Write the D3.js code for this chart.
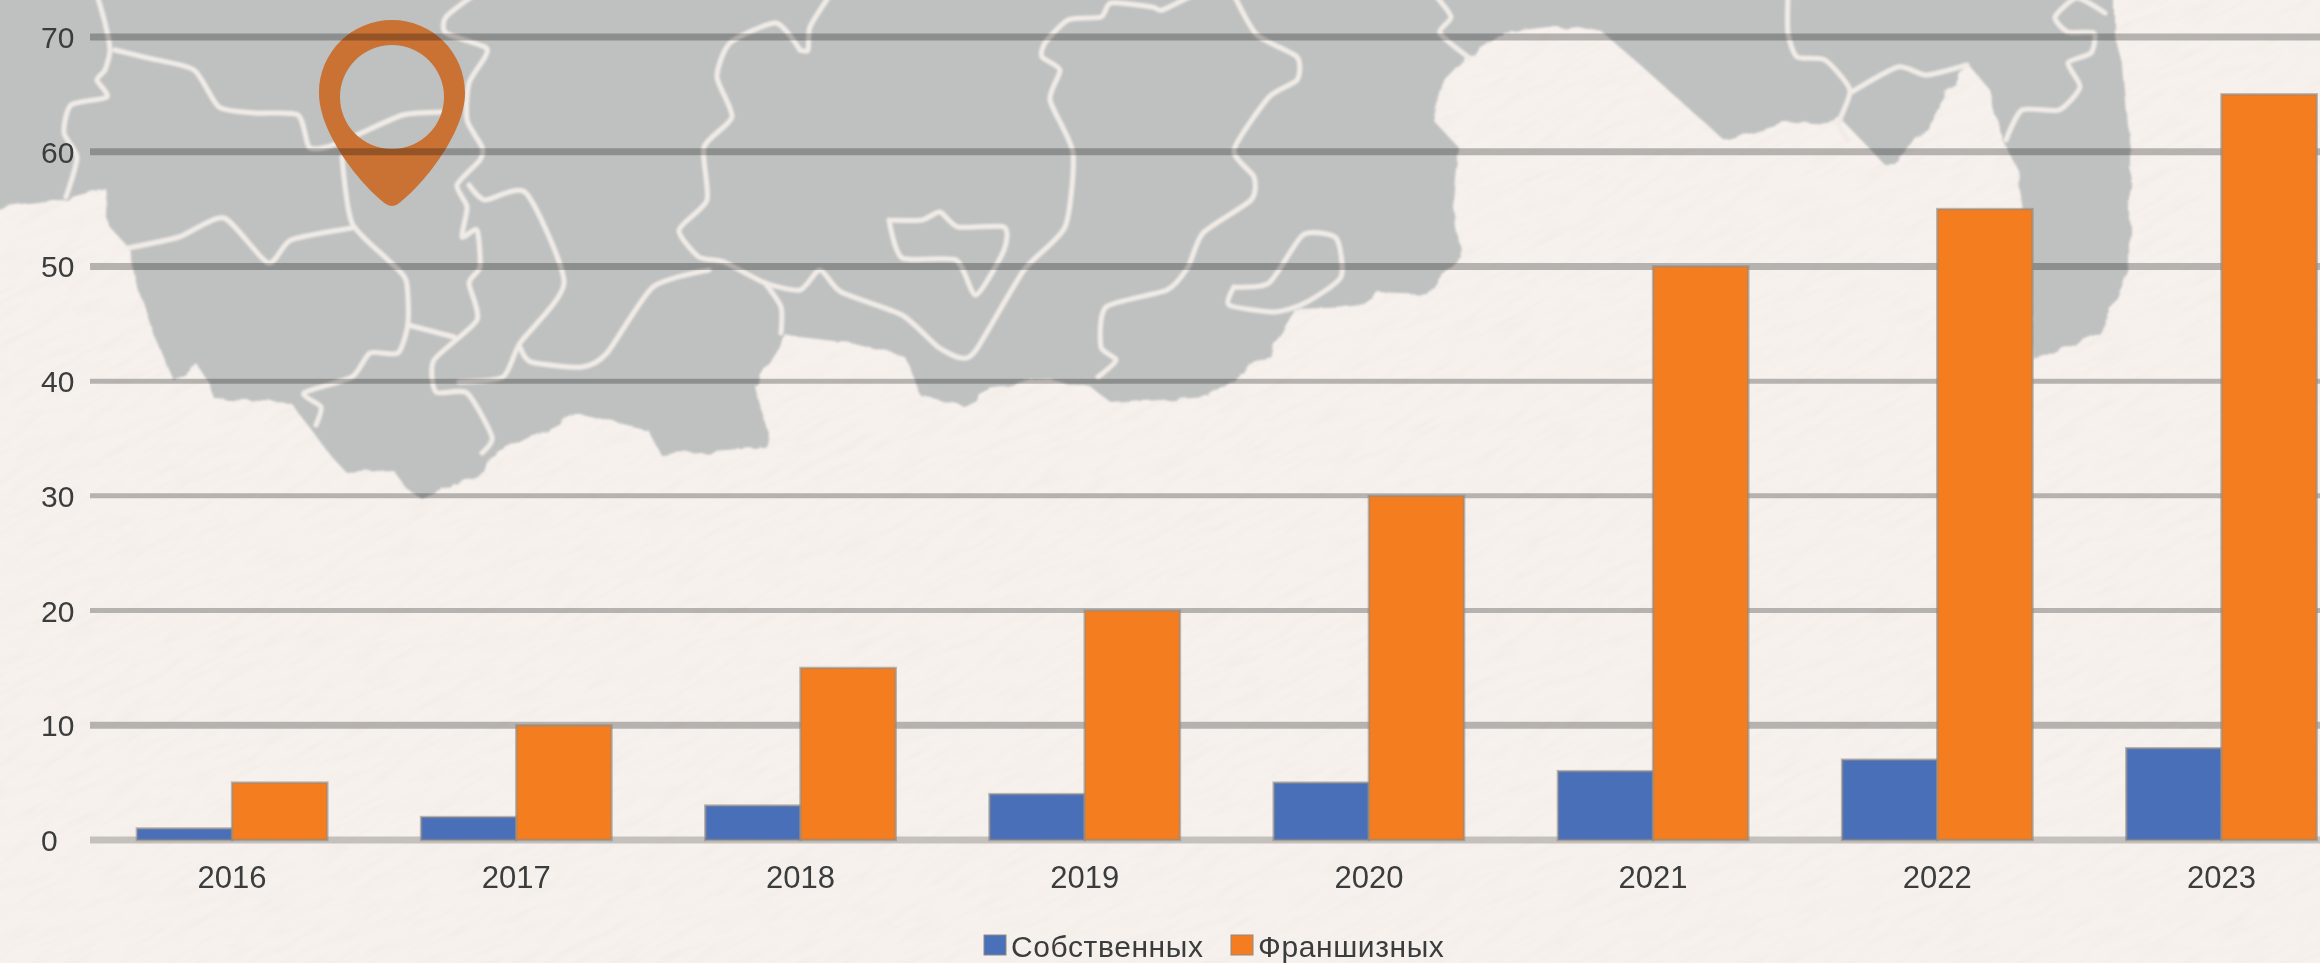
<!DOCTYPE html>
<html>
<head>
<meta charset="utf-8">
<script src="https://cdnjs.cloudflare.com/ajax/libs/d3/7.8.5/d3.min.js"></script>
<style>
    html, body { margin: 0; padding: 0; background: #f4eeea; overflow: hidden; }
    text { font-family: "Liberation Sans", Arial, sans-serif; fill: #3a3c3d; }
</style>
</head>
<body>
<div id="chart"></div>
<script>
// chart values
let years = ["2016", "2017", "2018", "2019", "2020", "2021", "2022", "2023"];
let seriesNames = ["Собственных", "Франшизных"];
let ownValues = [1, 2, 3, 4, 5, 6, 7, 8];
let franchiseValues = [5, 10, 15, 20, 30, 50, 55, 65];
let yTicks = [0, 10, 20, 30, 40, 50, 60, 70];
let seriesColors = ["#4a6fb9", "#f47d20"];

// backdrop map, traced in page pixels (decoration, not data)
let landOutline = [[-40,-40],[-40,212],[0,208],[61,200],[105,188],[110,227],[128,247],[135,277],[153,333],[173,380],[186,372],[196,363],[207,380],[214,398],[291,403],[306,423],[332,457],[347,473],[393,470],[408,490],[421,498],[439,490],[485,473],[490,457],[577,413],[648,430],[661,455],[765,447],[768,433],[755,387],[780,347],[784,333],[800,337],[851,343],[905,357],[915,380],[922,397],[963,405],[999,387],[1030,378],[1091,387],[1111,403],[1208,397],[1239,377],[1269,353],[1295,310],[1356,308],[1377,293],[1428,295],[1443,273],[1461,257],[1453,200],[1458,147],[1433,120],[1443,83],[1468,57],[1504,33],[1576,25],[1600,30],[1646,70],[1724,140],[1784,122],[1830,125],[1839,117],[1871,150],[1885,165],[1898,160],[1912,147],[1958,77],[1967,63],[1990,90],[2004,143],[2018,170],[2027,233],[2034,360],[2100,333],[2119,293],[2130,267],[2130,150],[2123,67],[2114,33],[2114,-40]];
let landBorders = [
    [[97,-5],[105,23],[110,50],[105,70],[97,80],[107,97],[71,105],[64,133],[77,157],[66,197]],
    [[115,50],[148,58],[194,70],[219,107],[255,113],[298,115],[309,147],[327,147],[357,135],[403,115],[444,112]],
    [[342,157],[352,223],[388,260],[406,280],[408,323],[398,353],[370,353],[352,377],[304,393],[321,407],[316,425]],
    [[128,248],[179,237],[224,218],[268,263],[291,240],[352,228]],
    [[408,325],[454,337]],
    [[474,-5],[446,17],[446,33],[485,47],[485,57],[469,83],[467,120],[482,147],[480,160],[457,185],[467,207],[462,237],[477,230],[480,267],[469,283],[477,320],[434,360],[436,392],[467,393],[492,437],[482,453]],
    [[469,185],[485,200],[526,193],[564,283],[520,343],[503,377],[459,382]],
    [[520,347],[531,362],[582,367],[607,353],[653,287],[709,270]],
    [[800,50],[776,23],[730,43],[717,77],[732,117],[704,147],[707,200],[679,230],[699,257],[724,262],[765,283],[800,290],[820,270],[841,292],[902,315],[938,347],[961,358],[976,350],[1024,270],[1065,227],[1073,153],[1050,100],[1060,70],[1042,57],[1045,43],[1068,20],[1101,17],[1111,3],[1152,7],[1162,10],[1193,-5]],
    [[800,50],[808,50],[810,27],[830,-5]],
    [[765,283],[781,307],[781,333]],
    [[889,220],[922,220],[940,212],[958,227],[1004,227],[1004,250],[976,295],[956,260],[902,258],[889,220]],
    [[1234,-5],[1257,35],[1297,57],[1297,80],[1269,97],[1234,150],[1254,177],[1251,200],[1203,233],[1188,267],[1167,290],[1106,307],[1101,347],[1116,360],[1098,377]],
    [[1234,287],[1269,283],[1303,235],[1336,238],[1341,277],[1305,303],[1274,312],[1229,305],[1234,287]],
    [[1435,-5],[1451,17],[1440,33],[1468,57]],
    [[1788,-5],[1788,33],[1797,57],[1825,60],[1850,90],[1839,123],[1848,140]],
    [[1850,93],[1898,67],[1926,75],[1967,65]],
    [[2105,13],[2077,-2],[2055,17],[2068,32],[2094,33],[2091,53],[2068,63],[2080,87],[2059,110],[2022,110],[2006,140]]
];

let pageWidth = 2320, pageHeight = 963;
let margin = { left: 90, bottom: 123, top: 37 };

let svg = d3.select("#chart").append("svg")
    .attr("width", pageWidth)
    .attr("height", pageHeight)
    .style("display", "block");

let defs = svg.append("defs");

// paper grain
let grain = defs.append("filter")
    .attr("id", "grain")
    .attr("filterUnits", "userSpaceOnUse")
    .attr("x", -400).attr("y", -800).attr("width", 3200).attr("height", 2600);
grain.append("feTurbulence")
    .attr("type", "fractalNoise")
    .attr("baseFrequency", "0.025 0.13")
    .attr("numOctaves", 4)
    .attr("seed", 7);
grain.append("feColorMatrix")
    .attr("values", "0 0 0 0 0.90  0 0 0 0 0.85  0 0 0 0 0.81  2.2 0 0 0 -0.95");

// rough coast edge
let rough = defs.append("filter")
    .attr("id", "rough")
    .attr("filterUnits", "userSpaceOnUse")
    .attr("x", -60).attr("y", -60).attr("width", pageWidth + 120).attr("height", pageHeight + 120);
rough.append("feTurbulence")
    .attr("type", "fractalNoise")
    .attr("baseFrequency", 0.05)
    .attr("numOctaves", 2)
    .attr("seed", 3)
    .attr("result", "noise");
rough.append("feDisplacementMap")
    .attr("in", "SourceGraphic")
    .attr("in2", "noise")
    .attr("scale", 9);

defs.append("filter").attr("id", "soft")
    .attr("filterUnits", "userSpaceOnUse")
    .attr("x", -60).attr("y", -60).attr("width", pageWidth + 120).attr("height", pageHeight + 120)
    .append("feGaussianBlur").attr("stdDeviation", 0.9);
defs.append("filter").attr("id", "softText")
    .append("feGaussianBlur").attr("stdDeviation", 0.7);

// background
svg.append("rect")
    .attr("width", pageWidth)
    .attr("height", pageHeight)
    .attr("fill", "#f6f1ed");
svg.append("rect")
    .attr("x", -300).attr("y", -700)
    .attr("width", 3000).attr("height", 2400)
    .attr("transform", "rotate(-28 1160 480)")
    .attr("fill", "#fff")
    .attr("filter", "url(#grain)");

let line = d3.line().curve(d3.curveCardinal.tension(0.35));

let mapGroup = svg.append("g").attr("filter", "url(#soft)");
mapGroup.append("path")
    .attr("d", d3.line()(landOutline) + "Z")
    .attr("fill", "#bfc1c1")
    .attr("filter", "url(#rough)");
mapGroup.selectAll(".border")
    .data(landBorders)
    .enter().append("path")
    .attr("class", "border")
    .attr("d", d => line(d))
    .attr("fill", "none")
    .attr("stroke", "#f0ebe6")
    .attr("stroke-width", 5)
    .attr("stroke-linejoin", "round")
    .attr("stroke-linecap", "round");

// location pin
svg.append("path")
    .attr("d", "M392,20 C432,20 465,52 465,93 C465,135 420,188 398,204 Q392,208 386,204 C364,188 319,135 319,93 C319,52 352,20 392,20 Z "
        + "M392,45 A52,52 0 1 0 392,149 A52,52 0 1 0 392,45 Z")
    .attr("fill", "#c97233")
    .attr("fill-rule", "evenodd");

// scales
let y = d3.scaleLinear()
    .domain([0, 70])
    .range([pageHeight - margin.bottom, margin.top]);

let x = d3.scaleBand()
    .domain(years)
    .range([margin.left, margin.left + 284.2 * years.length])
    .paddingInner(0.33)
    .paddingOuter(0.165);

let xSeries = d3.scaleBand()
    .domain(seriesNames)
    .range([0, x.bandwidth()]);

// horizontal grid lines
let thinLines = [20, 30, 40];
svg.append("g").selectAll("line")
    .data(yTicks)
    .enter().append("line")
    .attr("x1", margin.left)
    .attr("x2", pageWidth)
    .attr("y1", d => y(d))
    .attr("y2", d => y(d))
    .attr("stroke", "#000")
    .attr("stroke-opacity", d => d === 0 ? 0.2 : 0.26)
    .attr("stroke-width", d => thinLines.includes(d) ? 5 : 7);

// bars
let barData = years.map((year, i) => [
    { year: year, name: seriesNames[0], value: ownValues[i] },
    { year: year, name: seriesNames[1], value: franchiseValues[i] }
]);
let color = d3.scaleOrdinal().domain(seriesNames).range(seriesColors);

svg.append("g").selectAll("g")
    .data(barData)
    .enter().append("g")
    .attr("transform", d => "translate(" + x(d[0].year) + ",0)")
    .selectAll("rect")
    .data(d => d)
    .enter().append("rect")
    .attr("x", d => xSeries(d.name))
    .attr("y", d => y(d.value))
    .attr("width", xSeries.bandwidth())
    .attr("height", d => y(0) - y(d.value))
    .attr("fill", d => color(d.name))
    .attr("stroke", "#8f8a84")
    .attr("stroke-opacity", 0.6)
    .attr("stroke-width", 2.5);

// axes
let textLayer = svg.append("g").attr("filter", "url(#softText)");

let yAxis = d3.axisLeft(y).tickValues(yTicks).tickSize(0);
textLayer.append("g")
    .attr("class", "y-axis")
    .attr("transform", "translate(" + margin.left + ",0)")
    .call(yAxis)
    .call(g => g.select(".domain").remove())
    .selectAll("text")
    .attr("x", -49)
    .attr("dy", "0.35em")
    .attr("text-anchor", "start")
    .style("font-family", "Liberation Sans")
    .style("font-size", "30px");

let xAxis = d3.axisBottom(x).tickSize(0);
textLayer.append("g")
    .attr("class", "x-axis")
    .attr("transform", "translate(0," + y(0) + ")")
    .call(xAxis)
    .call(g => g.select(".domain").remove())
    .selectAll("text")
    .attr("y", 48)
    .attr("dy", 0)
    .style("font-family", "Liberation Sans")
    .style("font-size", "31px");

// legend
let legendX = d3.scaleOrdinal().domain(seriesNames).range([984, 1231]);
let legend = textLayer.selectAll(".legend")
    .data(seriesNames)
    .enter().append("g")
    .attr("class", "legend")
    .attr("transform", d => "translate(" + legendX(d) + ",935)");
legend.append("rect")
    .attr("width", 22)
    .attr("height", 20)
    .attr("fill", d => color(d))
    .attr("stroke", "#8f8a84")
    .attr("stroke-width", 1);
legend.append("text")
    .attr("x", 27)
    .attr("y", 22)
    .style("font-size", "30px")
    .style("letter-spacing", "0.6px")
    .text(d => d);
</script>
</body>
</html>
